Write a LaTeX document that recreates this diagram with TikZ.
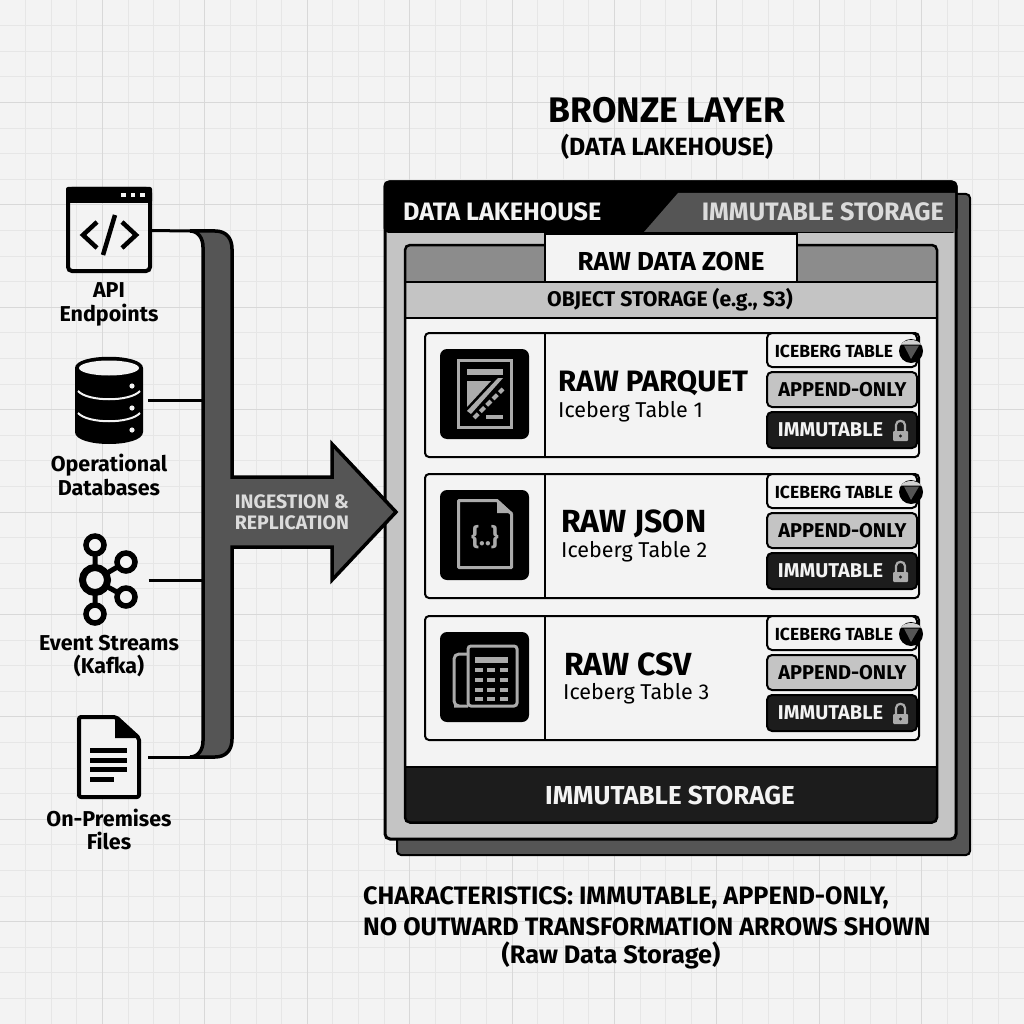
\documentclass[tikz,border=0pt]{standalone}
\usepackage{fontspec}
\setmainfont{Fira Sans}
\definecolor{paper}{HTML}{F3F3F3}
\definecolor{gridminor}{HTML}{E6E6E6}
\definecolor{gridmajor}{HTML}{D8D8D8}
\definecolor{slate}{HTML}{555555}
\definecolor{steel}{HTML}{C4C4C4}
\definecolor{band}{HTML}{8C8C8C}
\definecolor{ink}{HTML}{1C1C1C}
\definecolor{pale}{HTML}{ABABAB}
\newcommand{\fsz}[1]{\fontsize{#1}{#1}\selectfont}
\begin{document}
\begin{tikzpicture}[x=1pt,y=-1pt,
  iconbox/.style={inner sep=0pt, outer sep=#1, minimum width=0pt},
  srclabel/.style={align=center, font=\fontsize{21.5}{23.5}\selectfont\bfseries, inner sep=0pt},
  bandtext/.style={font=\fsz{25.2}\bfseries, inner sep=0pt},
  rowbox/.style={draw=black, line width=2pt, rounded corners=4pt, fill=paper, anchor=north west, minimum width=494pt, minimum height=124pt, inner sep=0pt},
  tile/.style={fill=black, rounded corners=7pt, minimum width=89pt, minimum height=90pt, inner sep=0pt},
  badge/.style={draw=black, line width=2pt, rounded corners=5pt, minimum width=150pt, inner sep=0pt},
  badgetext/.style={font=\fsz{20}\bfseries, inner sep=0pt},
  paleicon/.style={draw=pale, line width=3pt},
  link/.style={line width=3pt}]
\useasboundingbox (0,0) rectangle (1024,1024);
\fill[paper] (0,0) rectangle (1024,1024);
\foreach \i in {1,...,39} {
  \draw[gridminor, line width=0.8pt] (\i*25.6,0) -- (\i*25.6,1024);
  \draw[gridminor, line width=0.8pt] (0,\i*25.6) -- (1024,\i*25.6);
}
\foreach \i in {1,...,9} {
  \draw[gridmajor, line width=1pt] (\i*102.4,0) -- (\i*102.4,1024);
  \draw[gridmajor, line width=1pt] (0,\i*102.4) -- (1024,\i*102.4);
}

\node[font=\fsz{35.5}\bfseries, inner sep=0pt] (title) at (667,110) {BRONZE LAYER};
\node[font=\fsz{24.9}\bfseries, inner sep=0pt] (subtitle) at (667,147) {(DATA LAKEHOUSE)};

\filldraw[slate, draw=black, line width=2pt, rounded corners=4pt] (397,194) rectangle (970,855);
\filldraw[steel, draw=black, line width=3pt, rounded corners=5pt] (385,182) rectangle (956,839);
\fill[black, rounded corners=5pt] (383.5,180.5) -- (957.5,180.5) -- (957.5,233) -- (383.5,233) -- cycle;
\fill[slate] (678,193) -- (955,193) -- (955,232) -- (644,232) -- cycle;
\node[bandtext, text=paper, anchor=west] (lakehouse) at (403,212) {DATA LAKEHOUSE};
\node[bandtext, text=paper!90!black, anchor=east] (immutabletop) at (944,212) {IMMUTABLE STORAGE};

\fill[paper] (405,318) rectangle (937,767);
\fill[band] (405,245) rectangle (937,282);
\fill[steel] (405,282) rectangle (937,318);
\fill[ink] (405,767) rectangle (937,822);
\draw[black, line width=2.5pt, rounded corners=5pt] (405,245) rectangle (937,822.5);
\draw[black, line width=2.5pt] (405,282) -- (937,282) (405,318) -- (937,318);
\draw[black, line width=2.5pt] (405,767) -- (937,767);
\node[draw=black, line width=2.5pt, fill=paper, minimum width=252pt, minimum height=48pt, inner sep=0pt] (rawzone) at (671,258) {};
\node[font=\fsz{26}\bfseries, inner sep=0pt] (rawlabel) at (671,261) {RAW DATA ZONE};
\node[font=\fsz{21.2}\bfseries, inner sep=0pt] (objstore) at (670,300) {OBJECT STORAGE (e.g., S3)};
\node[font=\fsz{26}\bfseries, text=paper, inner sep=0pt] (immutablebar) at (670,795) {IMMUTABLE STORAGE};

\foreach \r/\top/\fmt/\fz/\lx/\ly/\tx/\ty in {1/332/PARQUET/29.5/558/51.5/558/80, 2/473/JSON/32/561/50.5/561/79, 3/615/CSV/32/564/49/563/79} {
  \begin{scope}[shift={(0,\top)}]
    \node[rowbox] (row\r) at (424,0) {};
    \draw[black, line width=2pt] (545,0) -- (545,124);
    \node[tile] (tile\r) at (484.5,62) {};
    \node[anchor=west, font=\fsz{\fz}\bfseries, inner sep=0pt] (fmt\r) at (\lx,\ly) {RAW \fmt};
    \node[anchor=west, font=\fsz{21.5}, inner sep=0pt] (tbl\r) at (\tx,\ty) {Iceberg Table \r};
    \node[badge, fill=paper, minimum height=34pt] (ice\r) at (842,18) {};
    \node[badge, fill=steel, minimum height=35pt] (app\r) at (842,57.5) {};
    \node[badge, fill=ink, minimum height=36pt] (imm\r) at (842,98) {};
    \node[badgetext, font=\fsz{17.5}\bfseries] (icetext\r) at (834,19) {ICEBERG TABLE};
    \node[badgetext] (apptext\r) at (842.5,58) {APPEND-ONLY};
    \node[badgetext, text=paper] (immtext\r) at (830.5,98) {IMMUTABLE};
    \fill[black] (911,19) circle (12);
    \fill[paper!85!black] (901,12.5) .. controls (904,6.5) and (918,6.5) .. (921,12.5) -- cycle;
    \fill[slate] (904,13.5) -- (919,13.5) -- (911,27) -- cycle;
    \fill[pale, rounded corners=1pt] (893,99) rectangle (908,109);
    \draw[pale, line width=2.2pt] (896,99) -- (896,93) .. controls (896,87.5) and (905,87.5) .. (905,93) -- (905,99);
    \fill[ink] (900.5,104) circle (1.6);
  \end{scope}
}

\draw[paleicon] (458.5,360.5) rectangle (511.5,427.5);
\fill[pale] (467,369) rectangle (503,375);
\fill[pale] (467,381) -- (491,381) -- (467,407) -- cycle;
\fill[pale] (467,411) -- (498,378) -- (503,378) -- (471,414) -- cycle;
\draw[pale, line width=4pt, dash pattern=on 6pt off 3pt] (474,418) -- (503,389);
\fill[pale] (486,415) rectangle (503,419);

\draw[paleicon, line join=round] (458.5,500.5) -- (497,500.5) -- (511.5,514) -- (511.5,567.5) -- (458.5,567.5) -- cycle;
\fill[pale] (497,499) -- (513,513) -- (497,513) -- cycle;
\node[text=pale, font=\fsz{24}\bfseries, inner sep=0pt] (jsonmark) at (485,537) {\{..\}};

\draw[paleicon, rounded corners=3pt] (468,646) rectangle (517,706);
\draw[paleicon, rounded corners=5pt] (468,706) -- (459,706) -- (454,706) -- (454,654) -- (467,654);
\fill[pale] (475,657) rectangle (508,662.5);
\foreach \kx in {475,487,500} {
  \foreach \ky in {668,678,688,697} {
    \fill[pale] (\kx,\ky) rectangle (\kx+8,\ky+4);
  }
}

\coordinate (busapi) at (190,231);
\coordinate (busdb) at (204,400);
\coordinate (buskafka) at (204,580);
\coordinate (busfile) at (190,757);
\filldraw[slate, draw=black, line width=3.5pt, line join=miter]
  (190,231) -- (215,231) .. controls (226,231) and (232,238) .. (232,249) -- (232,477) -- (332,477) -- (332,444)
  -- (396,512) -- (332,580) -- (332,547) -- (232,547) -- (232,739) .. controls (232,750) and (226,757) .. (215,757)
  -- (190,757) .. controls (198,757) and (203,750) .. (203,741) -- (203,247) .. controls (203,238) and (198,231) .. (190,231) -- cycle;
\node[align=center, text=paper!90!black, font=\fontsize{19.5}{21}\selectfont\bfseries, inner sep=0pt] (ingest) at (292,512.5) {INGESTION \&\\REPLICATION};

\node[iconbox=0pt, minimum width=86pt, minimum height=86pt] (apiicon) at (109,230) {};
\draw[black, line width=4pt, rounded corners=4pt] (68,189) rectangle (150,271);
\fill[black, rounded corners=2pt] (66,187) rectangle (152,203);
\foreach \dx in {121,130.5,140} {
  \fill[paper] (\dx,193) rectangle (\dx+4.5,197.5);
}
\draw[black, line width=4.5pt] (97,222) -- (83,235) -- (97,248) (122,222) -- (136,235) -- (122,248) (115,215) -- (103,255);
\node[srclabel] (apilabel) at (109,304.5) {API\\Endpoints};

\node[iconbox=5pt, minimum width=68pt, minimum height=87pt] (dbicon) at (109,400) {};
\fill[black] (75,368) .. controls (75,353) and (143,353) .. (143,368) -- (143,432) .. controls (143,448) and (75,448) .. (75,432) -- cycle;
\fill[paper] (109,368) circle [x radius=30, y radius=7.5];
\draw[paper, line width=2pt] (78,391) .. controls (88,402) and (130,402) .. (140,391);
\draw[paper, line width=2pt] (78,413) .. controls (88,424) and (130,424) .. (140,413);
\foreach \dy in {386,408,430} {
  \fill[paper] (132,\dy) circle (2.6);
}
\node[srclabel] (dblabel) at (109,475) {Operational\\Databases};

\node[iconbox=9pt, minimum width=61pt, minimum height=94pt] (kafkaicon) at (109,580) {};
\draw[black, line width=5pt] (95,545) -- (95,614) (95,580) -- (126,562) (95,580) -- (126,597);
\filldraw[fill=paper, draw=black, line width=7pt] (95,580) circle (12.5);
\foreach \kx/\ky in {95/545, 95/614, 126/562, 126/597} {
  \filldraw[fill=paper, draw=black, line width=5.5pt] (\kx,\ky) circle (9);
}
\node[srclabel] (kafkalabel) at (109,656) {Event Streams\\(Kafka)};

\node[iconbox=7pt, minimum width=64pt, minimum height=84pt] (fileicon) at (109,757) {};
\filldraw[fill=paper, draw=black, line width=4pt, line join=round, rounded corners=2pt] (79,717) -- (116,717) -- (139,738) -- (139,797) -- (79,797) -- cycle;
\fill[black] (115,716) -- (140,738) -- (115,738) -- cycle;
\foreach \ly/\lx in {750/127, 760/127, 769/127, 779/114} {
  \fill[black] (90,\ly-2.5) rectangle (\lx,\ly+2.5);
}
\node[srclabel] (filelabel) at (109,829.5) {On-Premises\\Files};

\draw[link] (apiicon) -- (busapi);
\draw[link] (dbicon) -- (busdb);
\draw[link] (kafkaicon) -- (buskafka);
\draw[link] (fileicon) -- (busfile);

\node[anchor=west, font=\fsz{25.2}\bfseries, inner sep=0pt] (notesa) at (363,898) {CHARACTERISTICS: IMMUTABLE, APPEND-ONLY,};
\node[anchor=west, font=\fsz{25.2}\bfseries, inner sep=0pt] (notesb) at (363,927) {NO OUTWARD TRANSFORMATION ARROWS SHOWN};
\node[font=\fsz{25.3}\bfseries, inner sep=0pt] (rawnote) at (611,955) {(Raw Data Storage)};
\end{tikzpicture}
\end{document}
